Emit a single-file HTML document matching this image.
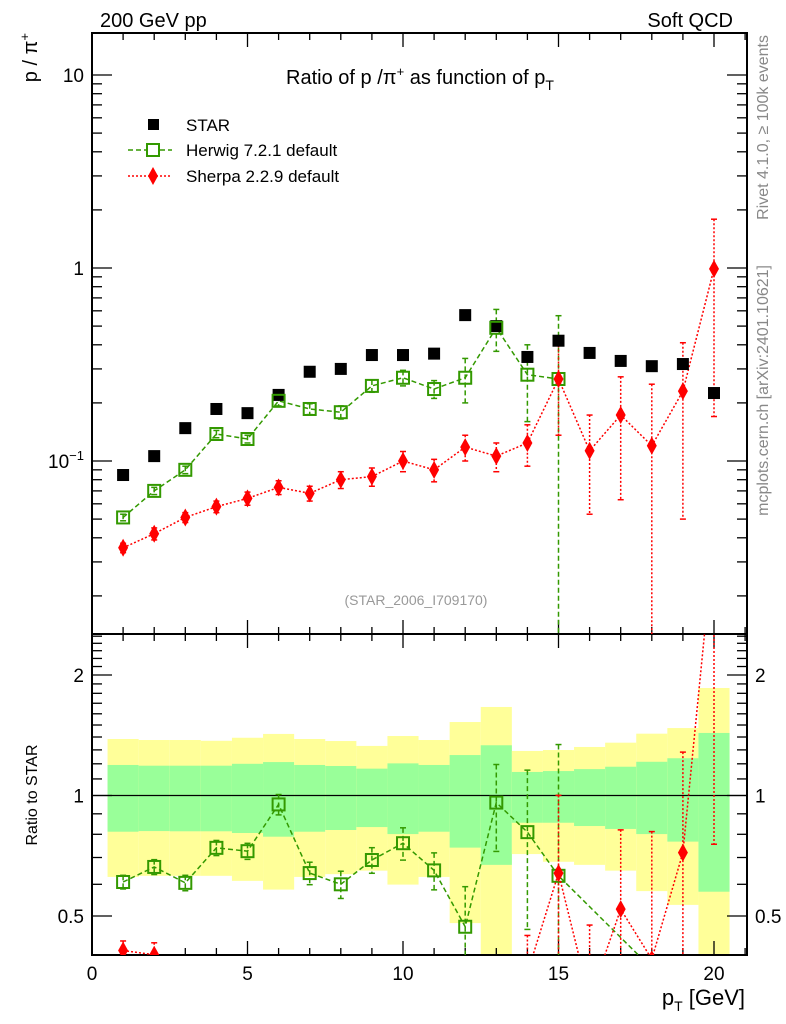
<!DOCTYPE html>
<html><head><meta charset="utf-8"><style>
html,body{margin:0;background:#fff;width:786px;height:1024px;overflow:hidden}
svg{display:block;font-family:"Liberation Sans",Arial,sans-serif}
</style></head><body>
<svg id="c" width="786" height="1024" xmlns="http://www.w3.org/2000/svg"></svg>
<script>
const bins=[1,2,3,4,5,6,7,8,9,10,11,12,13,14,15,16,17,18,19,20];
const star=[0.0846,0.106,0.148,0.186,0.177,0.22,0.29,0.30,0.354,0.354,0.36,0.57,0.50,0.346,0.42,0.363,0.33,0.31,0.318,0.225];
const herwig=[0.051,0.070,0.090,0.138,0.130,0.205,0.186,0.179,0.245,0.27,0.236,0.27,0.49,0.28,0.266,null,null,null,null,null];
const herwigErrUp=[0.002,0.003,0.004,0.006,0.006,0.012,0.012,0.014,0.018,0.025,0.025,0.07,0.12,0.12,0.3,0,0,0,0,0];
const herwigErrDn=[0.002,0.003,0.004,0.006,0.006,0.012,0.012,0.014,0.018,0.025,0.025,0.07,0.12,0.12,0.26,0,0,0,0,0];
const sherpa=[0.0355,0.042,0.051,0.058,0.064,0.073,0.068,0.080,0.083,0.10,0.09,0.118,0.106,0.124,0.266,0.113,0.173,0.12,0.23,0.99];
const sherpaErrUp=[0.002,0.003,0.003,0.004,0.005,0.006,0.006,0.008,0.009,0.012,0.012,0.018,0.018,0.03,0.15,0.06,0.1,0.13,0.18,0.8];
const sherpaErrDn=[0.002,0.003,0.003,0.004,0.005,0.006,0.006,0.008,0.009,0.012,0.012,0.018,0.018,0.03,0.13,0.06,0.11,0.12,0.18,0.82];
const herwigRatio=[0.608,0.663,0.605,0.74,0.726,0.95,0.64,0.60,0.69,0.76,0.65,0.47,0.96,0.81,0.63,null,null,0.37,null,null];
const sherpaRatio=[0.41,0.40,0.33,0.31,0.33,0.33,0.24,0.27,0.24,0.28,0.25,0.21,0.21,0.36,0.64,0.31,0.52,0.39,0.72,4.4];
const yellowHi=[1.384,1.376,1.376,1.37,1.394,1.425,1.384,1.368,1.33,1.408,1.376,1.526,1.664,1.292,1.299,1.322,1.355,1.427,1.474,1.856];
const yellowLo=[0.626,0.63,0.63,0.63,0.612,0.582,0.626,0.636,0.649,0.599,0.626,0.48,0.3,0.714,0.683,0.671,0.649,0.577,0.533,0.3];
const greenHi=[1.192,1.187,1.187,1.187,1.2,1.212,1.192,1.185,1.167,1.203,1.192,1.262,1.335,1.145,1.151,1.164,1.18,1.214,1.239,1.433];
const greenLo=[0.812,0.815,0.814,0.814,0.806,0.789,0.812,0.82,0.834,0.801,0.812,0.741,0.671,0.855,0.855,0.839,0.825,0.801,0.767,0.575];
const xTicks=[0,5,10,15,20];

const S=document.getElementById('c');const NS='http://www.w3.org/2000/svg';
function el(t,a,p){const e=document.createElementNS(NS,t);for(const k in a)e.setAttribute(k,a[k]);(p||S).appendChild(e);return e;}
const L=92,R=747,T=33,MB=634,RB=955;
const X=v=>L+v*31.1;
const Y=v=>268-Math.log10(v)*193;
const YR=v=>795.5-Math.log2(v)*120.5;
const clipM=el('clipPath',{id:'cm'});el('rect',{x:L,y:T,width:R-L,height:MB-T},clipM);
const clipR=el('clipPath',{id:'cr'});el('rect',{x:L,y:MB,width:R-L,height:RB-MB},clipR);

const gB=el('g',{'clip-path':'url(#cr)'});

bins.forEach((b,i)=>{
 const r1=el('rect',{x:X(b-0.5),width:31.1,y:YR(yellowHi[i]),height:YR(yellowLo[i])-YR(yellowHi[i]),fill:'#ffff99'},gB);
 
 const r2=el('rect',{x:X(b-0.5),width:31.1,y:YR(greenHi[i]),height:YR(greenLo[i])-YR(greenHi[i]),fill:'#99ff99'},gB);
 
});
el('line',{x1:L,x2:R,y1:YR(1),y2:YR(1),stroke:'#000','stroke-width':1.2});

const f1=el('rect',{x:L,y:T,width:R-L,height:MB-T,fill:'none',stroke:'#000','stroke-width':2});

const f2=el('rect',{x:L,y:MB,width:R-L,height:RB-MB,fill:'none',stroke:'#000','stroke-width':2});


for(let v=0;v<=21;v++){const maj=v%5==0,len=maj?14:7;
 [[MB,-1],[T,1],[RB,-1],[MB,1]].forEach(([y0,d])=>el('line',{x1:X(v),x2:X(v),y1:y0,y2:y0+d*len,stroke:'#000','stroke-width':1.3}));}
xTicks.forEach(v=>{const t=el('text',{x:X(v),y:980,'font-size':19,'text-anchor':'middle'});t.textContent=v;
 });
for(let e=-2;e<=1;e++)for(let m=1;m<10;m++){const v=m*Math.pow(10,e);const y=Y(v);if(y<T||y>MB)continue;
 const len=m==1?20:10;el('line',{x1:L,x2:L+len,y1:y,y2:y,stroke:'#000','stroke-width':1.3});el('line',{x1:R,x2:R-len,y1:y,y2:y,stroke:'#000','stroke-width':1.3});}
[[10,'10'],[1,'1']].forEach(([v,s])=>{const t=el('text',{x:L-8,y:Y(v)+7,'font-size':19,'text-anchor':'end'});t.textContent=s;
 });
{const t=el('text',{x:L-8,y:Y(0.1)+7,'font-size':19,'text-anchor':'end'});t.innerHTML='10<tspan dy="-8" font-size="13">−1</tspan>';
 }
for(let k=4;k<=25;k++){const v=k/10;const y=YR(v);if(y<MB||y>RB)continue;const maj=(k==5||k==10||k==20);const len=maj?20:10;
 el('line',{x1:L,x2:L+len,y1:y,y2:y,stroke:'#000','stroke-width':1.3});el('line',{x1:R,x2:R-len,y1:y,y2:y,stroke:'#000','stroke-width':1.3});}
[[2,'2'],[1,'1'],[0.5,'0.5']].forEach(([v,s])=>{[[L-8,'end'],[R+8,'start']].forEach(([x,a])=>{const t=el('text',{x:x,y:YR(v)+7,'font-size':19,'text-anchor':a});t.textContent=s;
 });});

function line(pts,col,dash,clip,name){let d='';let pen=false;pts.forEach(p=>{if(!p){pen=false;return;}d+=(pen?'L':'M')+p[0]+' '+p[1];pen=true;});
 const e=el('path',{d:d,fill:'none',stroke:col,'stroke-width':1.5,'stroke-dasharray':dash,'clip-path':clip});
 }
function err(x,y1,y2,col,dash,clip){el('line',{x1:x,x2:x,y1:y1,y2:y2,stroke:col,'stroke-width':1.5,'stroke-dasharray':dash,'clip-path':clip});
 el('line',{x1:x-3,x2:x+3,y1:y1,y2:y1,stroke:col,'stroke-width':1.5,'clip-path':clip});el('line',{x1:x-3,x2:x+3,y1:y2,y2:y2,stroke:col,'stroke-width':1.5,'clip-path':clip});}
function sq(x,y,col,fill,clip,name){const e=el('rect',{x:x-6,y:y-6,width:12,height:12,fill:fill,stroke:col,'stroke-width':2,'clip-path':clip});
 }
function dia(x,y,clip,name){const e=el('path',{d:`M${x} ${y-9}L${x+5} ${y}L${x} ${y+9}L${x-5} ${y}Z`,fill:'#f00','clip-path':clip});
 }
const G='#339900';
line(bins.map((b,i)=>herwig[i]==null?null:[X(b),Y(herwig[i])]),G,'5 3','url(#cm)','herwig-line');
bins.forEach((b,i)=>{if(herwig[i]==null)return;err(X(b),Y(herwig[i]+herwigErrUp[i]),Y(Math.max(herwig[i]-herwigErrDn[i],1e-4)),G,'5 3','url(#cm)');});
line(bins.map((b,i)=>[X(b),Y(sherpa[i])]),'#f00','2 2','url(#cm)','sherpa-line');
bins.forEach((b,i)=>{err(X(b),Y(sherpa[i]+sherpaErrUp[i]),Y(Math.max(sherpa[i]-sherpaErrDn[i],1e-4)),'#f00','2 2','url(#cm)');});
bins.forEach((b,i)=>{const e=el('rect',{x:X(b)-6,y:Y(star[i])-6,width:12,height:12,fill:'#000'});
 });
bins.forEach((b,i)=>{if(herwig[i]!=null)sq(X(b),Y(herwig[i]),G,'none','url(#cm)','herwig-point');});
bins.forEach((b,i)=>dia(X(b),Y(sherpa[i]),'url(#cm)','sherpa-point'));

line(bins.map((b,i)=>herwigRatio[i]==null?null:[X(b),YR(herwigRatio[i])]).filter(p=>p),G,'5 3','url(#cr)','herwig-ratio-line');
bins.forEach((b,i)=>{const r=herwigRatio[i];if(r==null||herwig[i]==null)return;const s=r/herwig[i];
 err(X(b),YR(r+herwigErrUp[i]*s),YR(Math.max(r-herwigErrDn[i]*s,0.01)),G,'5 3','url(#cr)');sq(X(b),YR(r),G,'none','url(#cr)','herwig-ratio-point');});
line(bins.map((b,i)=>[X(b),YR(sherpaRatio[i])]),'#f00','2 2','url(#cr)','sherpa-ratio-line');
bins.forEach((b,i)=>{const r=sherpaRatio[i];const s=r/sherpa[i];
 err(X(b),YR(r+sherpaErrUp[i]*s),YR(Math.max(r-sherpaErrDn[i]*s,0.01)),'#f00','2 2','url(#cr)');dia(X(b),YR(r),'url(#cr)','sherpa-ratio-point');});

function txt(x,y,s,a,name,extra){const t=el('text',Object.assign({x:x,y:y,'font-size':20,'text-anchor':a||'start'},extra||{}));t.innerHTML=s;
 return t;}
txt(100,27,'200 GeV pp','start','header-left');
txt(733,27,'Soft QCD','end','header-right');
txt(420,84,'Ratio of p /π<tspan dy="-8" font-size="13">+</tspan><tspan dy="8"> as function of p</tspan><tspan dy="6" font-size="14">T</tspan>','middle','plot-title');
txt(416,605,'(STAR_2006_I709170)','middle','analysis-id',{'font-size':14,fill:'#999'});
txt(186,131,'STAR','start','legend-star',{'font-size':17});
txt(186,156,'Herwig 7.2.1 default','start','legend-herwig',{'font-size':17});
txt(186,182,'Sherpa 2.2.9 default','start','legend-sherpa',{'font-size':17});
{const e=el('rect',{x:148,y:119,width:11,height:11,fill:'#000'});}
el('line',{x1:128,x2:172,y1:150,y2:150,stroke:G,'stroke-width':1.5,'stroke-dasharray':'5 3'});
sq(153,150,G,'#fff','','legend-herwig-marker');
el('line',{x1:128,x2:172,y1:176,y2:176,stroke:'#f00','stroke-width':1.5,'stroke-dasharray':'2 2'});
dia(153,176,'','legend-sherpa-marker');
txt(0,0,'p / π<tspan dy="-8" font-size="13">+</tspan>','end','y-axis-title',{transform:'translate(37,33) rotate(-90)'});
txt(0,0,'Ratio to STAR','middle','ratio-axis-title',{'font-size':16,transform:'translate(37,795) rotate(-90)'});
txt(745,1005,'p<tspan dy="6" font-size="14">T</tspan><tspan dy="-6"> [GeV]</tspan>','end','x-axis-title',{'font-size':22});
txt(0,0,'Rivet 4.1.0, ≥ 100k events','end','rivet-label',{'font-size':16,fill:'#888',transform:'translate(768,35) rotate(-90)'});
txt(0,0,'mcplots.cern.ch [arXiv:2401.10621]','end','mcplots-label',{'font-size':16,fill:'#888',transform:'translate(768,265) rotate(-90)'});
</script>
</body></html>
